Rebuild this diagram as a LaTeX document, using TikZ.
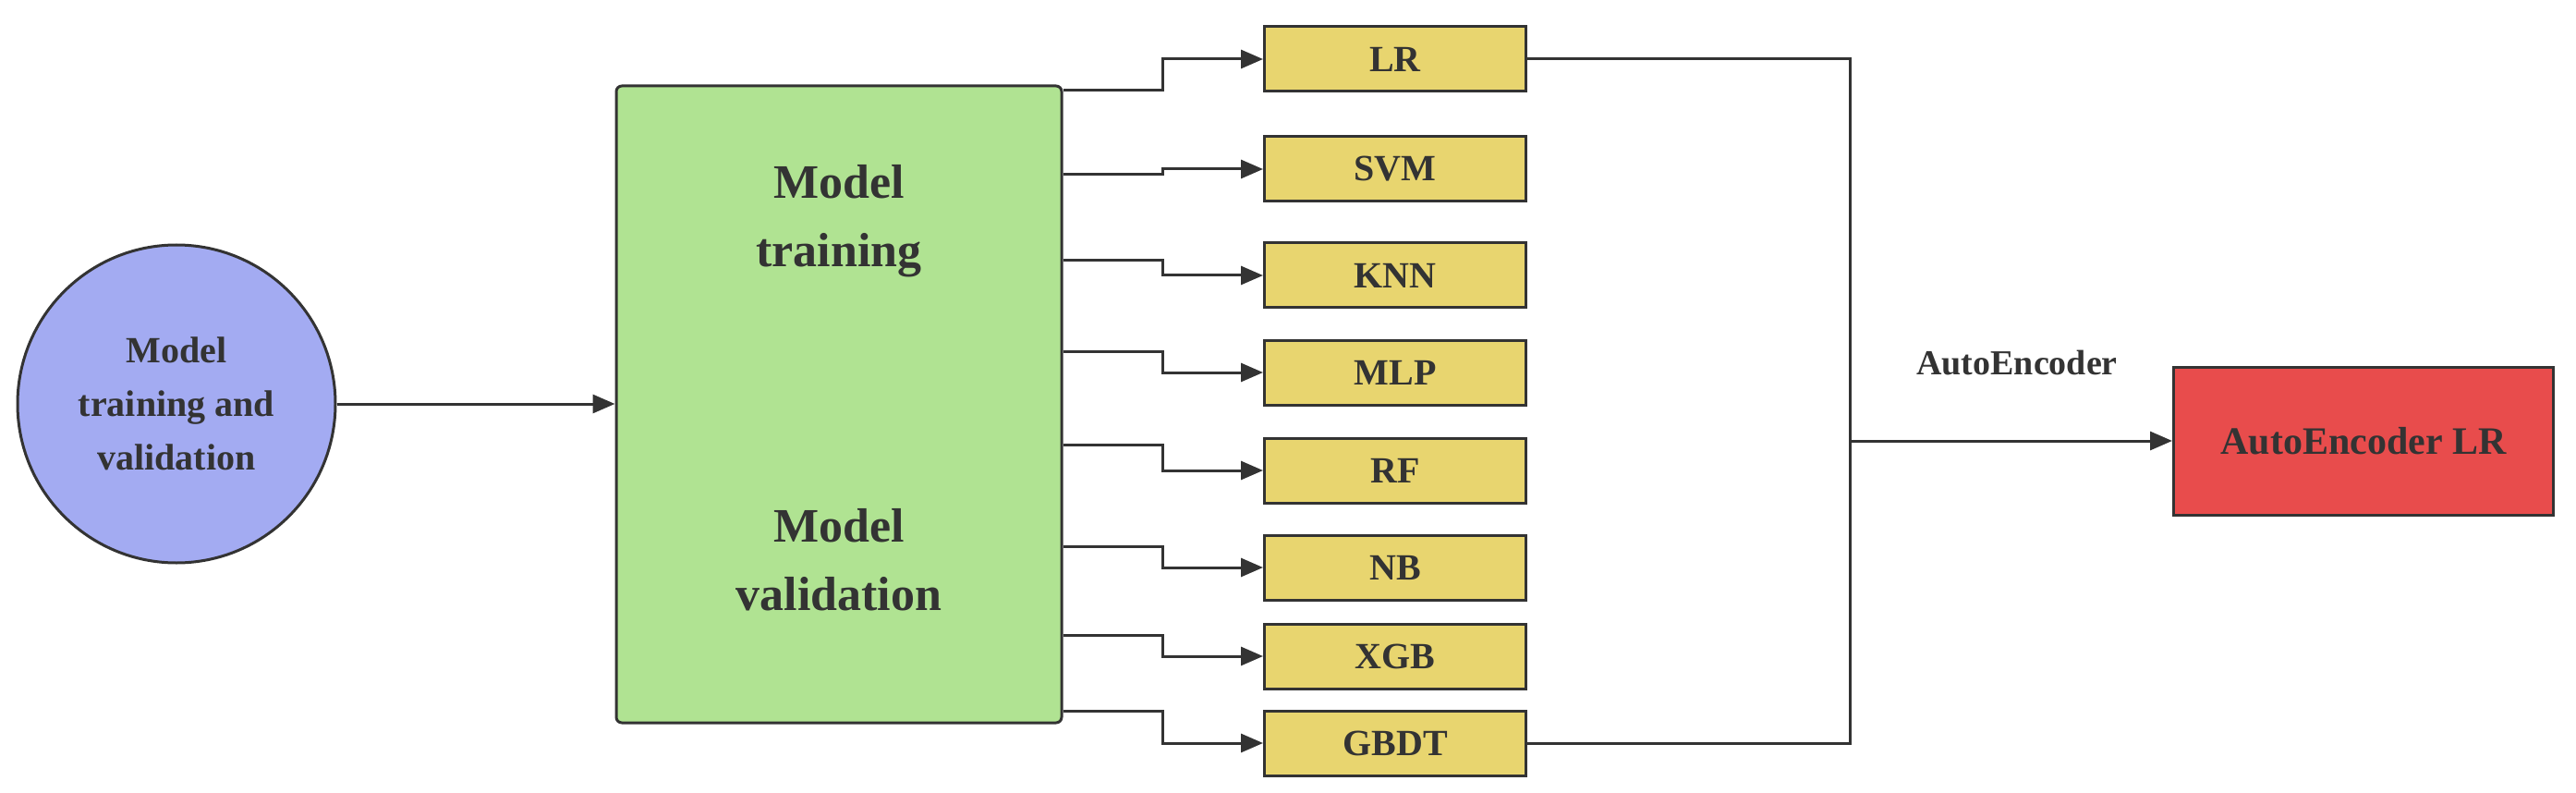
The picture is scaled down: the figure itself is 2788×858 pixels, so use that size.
\documentclass[tikz,border=0pt]{standalone}
\usepackage{fontspec}
\setmainfont{Liberation Serif}
\usetikzlibrary{arrows.meta}
\begin{document}
\begin{tikzpicture}[x=1pt,y=-1pt,
  ln/.style={draw=black!80,line width=3pt},
  arr/.style={ln,-{Triangle[length=24pt,width=20pt]}},
  mb/.style={draw=black!80,line width=3pt,fill=yellowbox,minimum width=283pt,minimum height=70pt,font=\fontsize{40}{44}\selectfont\bfseries,text=black!80},
  every node/.style={inner sep=0pt}]
\definecolor{yellowbox}{HTML}{E8D56F}
\definecolor{greenbox}{HTML}{B0E392}
\definecolor{bluecirc}{HTML}{A3ABF2}
\definecolor{redbox}{HTML}{E84C4C}
\useasboundingbox (0,0) rectangle (2788,858);
\node[circle,draw=black!80,line width=3pt,fill=bluecirc,minimum size=344pt,align=center,font=\fontsize{40}{58}\selectfont\bfseries,text=black!80] (c) at (191,437) {Model\\training and\\validation};
\node[draw=black!80,line width=3pt,fill=greenbox,rounded corners=6pt,minimum width=482pt,minimum height=689pt] (g) at (908,437.5) {};
\node[align=center,font=\fontsize{52}{74}\selectfont\bfseries,text=black!80] (t1) at (908,239) {Model\\training};
\node[align=center,font=\fontsize{52}{74}\selectfont\bfseries,text=black!80] (t2) at (908,606) {Model\\validation};
\draw[arr] (c.east) -- (g.west |- c.east);
\foreach \n/\t/\y/\s in {lr/LR/64/98, svm/SVM/183/189, knn/KNN/298/282, mlp/MLP/403/380, rf/RF/509/481, nb/NB/614/591, xgb/XGB/710/687, gbdt/GBDT/804/769}{
  \node[mb] (\n) at (1510,\y) {\t};
  \draw[arr] (g.east |- 0,\s) -| (1258,\y) -- (\n.west);
}
\node[draw=black!80,line width=3pt,fill=redbox,minimum width=411pt,minimum height=160pt,font=\fontsize{42}{46}\selectfont\bfseries,text=black!80] (ae) at (2558,477) {AutoEncoder LR};
\coordinate (j) at (2002,477);
\draw[ln] (lr.east) -| (j);
\draw[ln] (gbdt.east) -| (j);
\draw[arr] (j) -- (ae.west);
\node[font=\fontsize{38}{42}\selectfont\bfseries,text=black!80] (lab) at (2183,393) {AutoEncoder};
\end{tikzpicture}
\end{document}
